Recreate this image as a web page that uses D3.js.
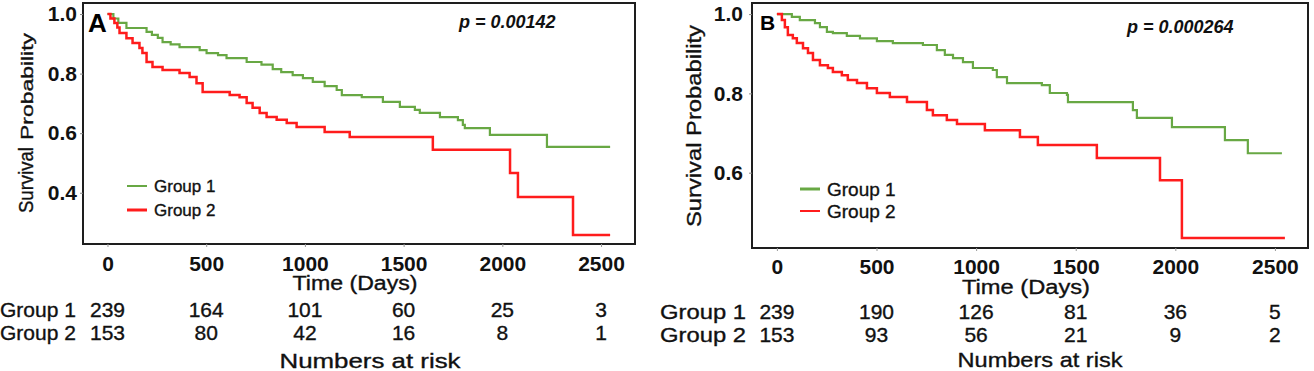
<!DOCTYPE html>
<html>
<head>
<meta charset="utf-8">
<script src="https://cdn.jsdelivr.net/npm/d3@7"></script>
<style>
  html, body { margin: 0; padding: 0; background: #fff; }
  svg { display: block; font-family: "Liberation Sans", Arial, sans-serif; }
  .med { stroke: #111; stroke-width: 0.35px; }
</style>
</head>
<body>
<div id="chart"></div>
<script>
// shared
const timeTicks = [0, 500, 1000, 1500, 2000, 2500];
const groups = ["Group 1", "Group 2"];
const colors = ["#68a844", "#ff1c1c"];

// panel A  [time, survival]
const yTicksA = [0.4, 0.6, 0.8, 1.0];
const survA1 = [[0,1],[30,0.985],[55,0.97],[96,0.953],[198,0.94],[225,0.93],[255,0.92],[279,0.906],[320,0.898],[365,0.889],[467,0.879],[502,0.869],[560,0.862],[603,0.852],[705,0.839],[780,0.83],[837,0.815],[880,0.805],[938,0.795],[990,0.785],[1040,0.772],[1100,0.758],[1161,0.745],[1187,0.728],[1288,0.721],[1395,0.705],[1481,0.688],[1557,0.678],[1582,0.668],[1684,0.654],[1775,0.644],[1800,0.628],[1810,0.617],[1937,0.594],[2226,0.554],[2546,0.554]];
const survA2 = [[0,1],[15,0.985],[35,0.97],[50,0.955],[61,0.936],[96,0.919],[127,0.903],[162,0.886],[177,0.869],[198,0.839],[228,0.822],[279,0.812],[365,0.802],[416,0.789],[451,0.768],[482,0.738],[619,0.728],[669,0.721],[705,0.701],[735,0.685],[771,0.668],[806,0.654],[857,0.645],[908,0.634],[958,0.621],[1100,0.604],[1227,0.587],[1648,0.544],[2039,0.466],[2079,0.386],[2358,0.258],[2546,0.258]];
const riskA1 = [239, 164, 101, 60, 25, 3];
const riskA2 = [153, 80, 42, 16, 8, 1];
const pTextA = "p = 0.00142";

// panel B
const yTicksB = [0.6, 0.8, 1.0];
const survB1 = [[0,1],[75,0.993],[115,0.985],[191,0.977],[216,0.967],[251,0.955],[281,0.952],[351,0.945],[417,0.939],[502,0.932],[582,0.927],[733,0.922],[803,0.909],[843,0.897],[884,0.889],[934,0.879],[984,0.864],[1084,0.859],[1104,0.841],[1155,0.826],[1330,0.821],[1370,0.801],[1456,0.796],[1461,0.778],[1787,0.758],[1807,0.738],[1983,0.715],[2249,0.682],[2364,0.649],[2535,0.649]];
const survB2 = [[0,1],[25,0.985],[40,0.967],[55,0.947],[80,0.939],[100,0.927],[131,0.914],[156,0.902],[181,0.884],[216,0.871],[256,0.864],[281,0.854],[326,0.846],[356,0.834],[402,0.826],[452,0.813],[502,0.801],[567,0.791],[653,0.778],[753,0.758],[783,0.745],[853,0.733],[904,0.723],[1044,0.707],[1220,0.69],[1310,0.67],[1606,0.637],[1923,0.581],[2033,0.435],[2550,0.435]];
const riskB1 = [239, 190, 126, 81, 36, 5];
const riskB2 = [153, 93, 56, 21, 9, 2];
const pTextB = "p = 0.000264";

const svg = d3.select("#chart").append("svg")
  .attr("width", 1314)
  .attr("height", 371);

svg.append("rect").attr("width", 1314).attr("height", 371).attr("fill", "#fff");

const panels = [
  {
    letter: "A", letterX: 88, letterY: 32, letterSize: 26,
    box: { l: 83, r: 635, t: 3, b: 244 },
    xDomain: [-124, 2672], yDomain: [0.228, 1.037],
    yTicks: yTicksA, series: [survA1, survA2], risk: [riskA1, riskA2],
    pText: pTextA, pX: 459, pY: 22,
    yPad: 3, xPad: 9,
    ylab: [{ t: "Survival", y: 213, len: 66, size: 21 }, { t: "Probability", y: 140, len: 107, size: 16 }], ylabX: 33,
    legX: 127, legY: [186, 210], legSize: 17, legW: [2, 3],
    timeX: 355, timeY: 283, timeLen: 125,
    riskLabelX: 76, riskY: [309, 332], riskLabelLen: 76,
    narX: 370, narY: 368, narLen: 181
  },
  {
    letter: "B", letterX: 760, letterY: 30, letterSize: 21,
    box: { l: 752, r: 1308, t: 3, b: 248 },
    xDomain: [-125, 2666], yDomain: [0.41, 1.028],
    yTicks: yTicksB, series: [survB1, survB2], risk: [riskB1, riskB2],
    pText: pTextB, pX: 1127, pY: 27,
    yPad: 6, xPad: 8,
    ylab: [{ t: "Survival Probability", y: 227, len: 202, size: 20 }], ylabX: 701,
    legX: 800, legY: [189, 211], legSize: 19, legW: [3, 2],
    timeX: 1026, timeY: 287, timeLen: 128,
    riskLabelX: 746, riskY: [311, 334], riskLabelLen: 86,
    narX: 1040, narY: 367, narLen: 165
  }
];

panels.forEach(drawPanel);

function drawPanel(p) {
  const g = svg.append("g");
  const x = d3.scaleLinear().domain(p.xDomain).range([p.box.l, p.box.r]);
  const y = d3.scaleLinear().domain(p.yDomain).range([p.box.b, p.box.t]);

  const line = d3.line()
    .curve(d3.curveStepAfter)
    .x(d => x(d[0]))
    .y(d => y(d[1]));

  p.series.forEach((s, i) => {
    g.append("path")
      .datum(s)
      .attr("d", line)
      .attr("fill", "none")
      .attr("stroke", colors[i])
      .attr("stroke-width", i === 0 ? 2.2 : 2.5);
  });

  g.append("rect")
    .attr("x", p.box.l).attr("y", p.box.t)
    .attr("width", p.box.r - p.box.l).attr("height", p.box.b - p.box.t)
    .attr("fill", "none").attr("stroke", "#1e1e1e").attr("stroke-width", 2);

  // y axis
  const ya = g.append("g")
    .attr("transform", "translate(" + p.box.l + ",0)")
    .call(d3.axisLeft(y).tickValues(p.yTicks).tickFormat(d3.format(".1f")).tickSize(3).tickPadding(p.yPad));
  ya.select(".domain").remove();
  ya.selectAll("line").attr("stroke", "#888");
  ya.selectAll("text")
    .attr("font-family", "Liberation Sans, Arial, sans-serif")
    .attr("font-size", 21).attr("font-weight", "bold").attr("fill", "#111");

  // x axis
  const xa = g.append("g")
    .attr("transform", "translate(0," + p.box.b + ")")
    .call(d3.axisBottom(x).tickValues(timeTicks).tickFormat(d3.format("d")).tickSize(3).tickPadding(p.xPad));
  xa.select(".domain").remove();
  xa.selectAll("line").attr("stroke", "#999");
  xa.selectAll("text")
    .attr("font-family", "Liberation Sans, Arial, sans-serif")
    .attr("font-size", 21).attr("font-weight", "bold").attr("fill", "#111");

  // y title
  p.ylab.forEach(l => {
    g.append("text")
      .attr("class", "med")
      .attr("transform", "translate(" + p.ylabX + "," + l.y + ") rotate(-90)")
      .attr("font-size", l.size)
      .attr("textLength", l.len)
      .attr("lengthAdjust", "spacingAndGlyphs")
      .attr("fill", "#111")
      .text(l.t);
  });

  // panel letter
  g.append("text")
    .attr("x", p.letterX).attr("y", p.letterY)
    .attr("font-size", p.letterSize).attr("font-weight", "bold").attr("fill", "#000")
    .text(p.letter);

  // p value
  g.append("text")
    .attr("x", p.pX).attr("y", p.pY)
    .attr("dominant-baseline", "central")
    .attr("font-size", 18).attr("font-weight", "bold").attr("font-style", "italic")
    .attr("fill", "#111")
    .text(p.pText);

  // legend
  groups.forEach((name, i) => {
    g.append("line")
      .attr("x1", p.legX).attr("x2", p.legX + 20)
      .attr("y1", p.legY[i]).attr("y2", p.legY[i])
      .attr("stroke", colors[i]).attr("stroke-width", p.legW[i]);
    g.append("text")
      .attr("class", "med")
      .attr("x", p.legX + 27).attr("y", p.legY[i])
      .attr("dominant-baseline", "central")
      .attr("font-size", p.legSize).attr("fill", "#111")
      .text(name);
  });

  // time title
  g.append("text")
    .attr("class", "med")
    .attr("x", p.timeX).attr("y", p.timeY)
    .attr("text-anchor", "middle").attr("dominant-baseline", "central")
    .attr("font-size", 20).attr("fill", "#111")
    .attr("textLength", p.timeLen).attr("lengthAdjust", "spacingAndGlyphs")
    .text("Time (Days)");

  // numbers at risk
  groups.forEach((name, i) => {
    g.append("text")
      .attr("class", "med")
      .attr("x", p.riskLabelX).attr("y", p.riskY[i])
      .attr("text-anchor", "end").attr("dominant-baseline", "central")
      .attr("font-size", 21).attr("fill", "#111")
      .attr("textLength", p.riskLabelLen).attr("lengthAdjust", "spacingAndGlyphs")
      .text(name);
    g.selectAll(null)
      .data(p.risk[i])
      .join("text")
      .attr("class", "med")
      .attr("x", (d, j) => x(timeTicks[j]))
      .attr("y", p.riskY[i])
      .attr("text-anchor", "middle").attr("dominant-baseline", "central")
      .attr("font-size", 21).attr("fill", "#111")
      .text(d => d);
  });

  g.append("text")
    .attr("class", "med")
    .attr("x", p.narX).attr("y", p.narY)
    .attr("text-anchor", "middle")
    .attr("font-size", 21).attr("fill", "#111")
    .attr("textLength", p.narLen).attr("lengthAdjust", "spacingAndGlyphs")
    .text("Numbers at risk");
}
</script>
</body>
</html>
